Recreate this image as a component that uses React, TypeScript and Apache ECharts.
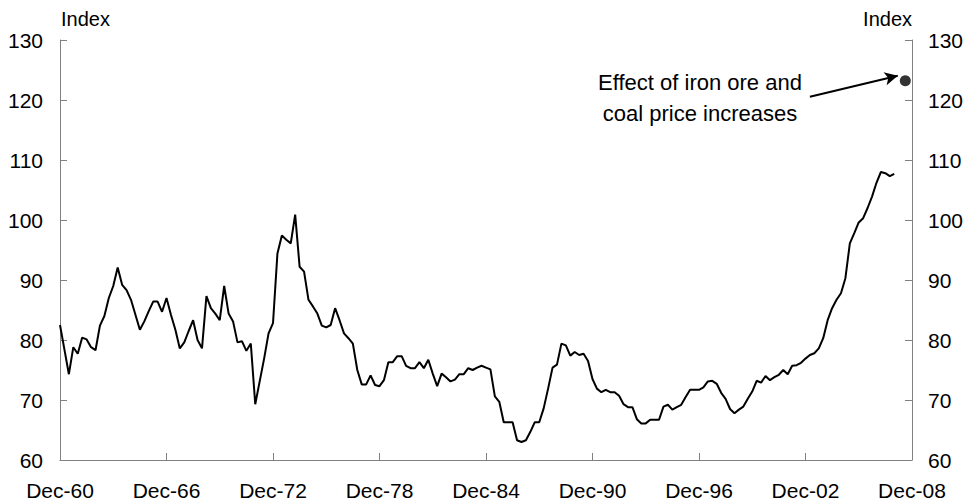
import React, { useEffect, useRef } from "react";
import * as echarts from "echarts";

// Quarterly index values, Dec-60 (quarter 0) to Dec-07 (quarter 188)
const indexValues: number[] = [
  82.5, 78.4, 74.3, 78.8, 77.7, 80.4, 80.1, 78.8, 78.3, 82.4,
  84.0, 87.0, 89.0, 92.1, 89.2, 88.3, 86.7, 84.2, 81.7, 83.1,
  84.8, 86.4, 86.4, 84.7, 87.0, 84.2, 81.7, 78.6, 79.6, 81.5,
  83.3, 80.0, 78.6, 87.3, 85.3, 84.4, 83.3, 89.0, 84.4, 83.1,
  79.6, 79.8, 78.2, 79.4, 69.3, 73.1, 76.9, 81.1, 82.8, 94.4,
  97.4, 96.7, 96.1, 100.9, 92.2, 91.4, 86.7, 85.6, 84.4, 82.4,
  82.1, 82.5, 85.3, 83.3, 81.1, 80.3, 79.4, 75.0, 72.6, 72.6,
  74.1, 72.5, 72.3, 73.3, 76.3, 76.3, 77.3, 77.3, 75.7, 75.3,
  75.3, 76.3, 75.3, 76.7, 74.4, 72.3, 74.4, 73.8, 73.1, 73.4,
  74.3, 74.3, 75.3, 75.0, 75.4, 75.7, 75.4, 75.1, 70.6, 69.7,
  66.3, 66.3, 66.3, 63.3, 63.0, 63.3, 64.7, 66.3, 66.3, 68.6,
  71.9, 75.4, 75.9, 79.4, 79.1, 77.4, 78.0, 77.5, 77.7, 76.5,
  73.5, 71.9, 71.3, 71.7, 71.3, 71.3, 70.7, 69.3, 68.8, 68.8,
  66.8, 66.1, 66.1, 66.7, 66.7, 66.7, 68.9, 69.2, 68.4, 68.8,
  69.2, 70.5, 71.7, 71.7, 71.7, 72.1, 73.1, 73.2, 72.7, 71.2,
  70.2, 68.5, 67.8, 68.4, 68.9, 70.2, 71.4, 73.2, 72.9, 74.0,
  73.3, 73.8, 74.2, 75.0, 74.3, 75.7, 75.8, 76.2, 76.9, 77.5,
  77.8, 78.6, 80.3, 83.3, 85.3, 86.7, 87.8, 90.3, 96.1, 97.8,
  99.6, 100.3, 102.0, 103.9, 106.2, 108.0, 107.8, 107.3, 107.7,
];

// Effect of iron ore and coal price increases (quarter index, value)
const effectPoint: [number, number] = [190.5, 123.2];
// Arrow from annotation text to the point (quarter index, value)
const arrowStart: [number, number] = [169, 120.55];
const arrowEnd: [number, number] = [188.8, 124.05];

const startYear = 60; // Dec-60
const xTickInterval = 24; // quarters (6 years)
const yMin = 60;
const yMax = 130;
const yInterval = 10;
const annotationLines = ["Effect of iron ore and", "coal price increases"];
const axisTitle = "Index";

const FONT = 'Arial, "Liberation Sans", sans-serif';

export default function App() {
  const ref = useRef<HTMLDivElement>(null);

  useEffect(() => {
    if (!ref.current) return;
    const chart = echarts.init(ref.current, undefined, { renderer: "svg" });

    const lineData = indexValues.map((v, i) => [i, v]);
    const axisColor = "#808080";

    const yAxisCommon = {
      type: "value" as const,
      min: yMin,
      max: yMax,
      interval: yInterval,
      splitLine: { show: false },
      axisLine: { show: true, lineStyle: { color: axisColor, width: 1 } },
      axisTick: { show: true, inside: true, length: 7, lineStyle: { color: axisColor } },
    };

    chart.setOption({
      animation: false,
      backgroundColor: "#ffffff",
      grid: { left: 60, right: 54, top: 40, bottom: 43, containLabel: false },
      xAxis: {
        type: "value",
        min: 0,
        max: 192,
        interval: xTickInterval,
        splitLine: { show: false },
        axisLine: { show: true, onZero: false, lineStyle: { color: axisColor, width: 1 } },
        axisTick: { show: true, inside: true, length: 7, lineStyle: { color: axisColor } },
        axisLabel: {
          color: "#000",
          fontSize: 21,
          fontFamily: FONT,
          margin: 20,
          formatter: (v: number) => {
            const yr = (startYear + v / 4) % 100;
            return "Dec-" + String(Math.round(yr)).padStart(2, "0");
          },
        },
      },
      yAxis: [
        {
          ...yAxisCommon,
          position: "left",
          axisLabel: { color: "#000", fontSize: 21, fontFamily: FONT, margin: 17 },
        },
        {
          ...yAxisCommon,
          position: "right",
          axisLabel: { color: "#000", fontSize: 21, fontFamily: FONT, margin: 16 },
        },
      ],
      series: [
        {
          type: "line",
          data: lineData,
          showSymbol: false,
          symbol: "none",
          lineStyle: { color: "#000", width: 2 },
          yAxisIndex: 0,
        },
        {
          type: "scatter",
          data: [effectPoint],
          symbolSize: 11,
          itemStyle: { color: "#000" },
          yAxisIndex: 0,
          markLine: {
            silent: true,
            symbol: ["none", "arrow"],
            symbolSize: [10, 13],
            label: { show: false },
            lineStyle: { color: "#000", width: 2, type: "solid" },
            data: [[{ coord: arrowStart }, { coord: arrowEnd }]],
          },
        },
      ],
      graphic: [
        {
          type: "text",
          left: 61,
          top: 9,
          style: { text: axisTitle, fontSize: 20, fontFamily: FONT, fill: "#000" },
        },
        {
          type: "text",
          right: 54,
          top: 9,
          style: { text: axisTitle, fontSize: 20, fontFamily: FONT, fill: "#000", align: "right" },
        },
        {
          type: "text",
          x: 700,
          y: 67,
          style: {
            text: annotationLines.join("\n"),
            fontSize: 22,
            lineHeight: 31,
            fontFamily: FONT,
            fill: "#000",
            align: "center",
            verticalAlign: "top",
          },
        },
      ],
    });

    return () => chart.dispose();
  }, []);

  return (
    <div
      ref={ref}
      style={{ position: "fixed", left: 0, top: 0, width: 966, height: 503 }}
    />
  );
}
